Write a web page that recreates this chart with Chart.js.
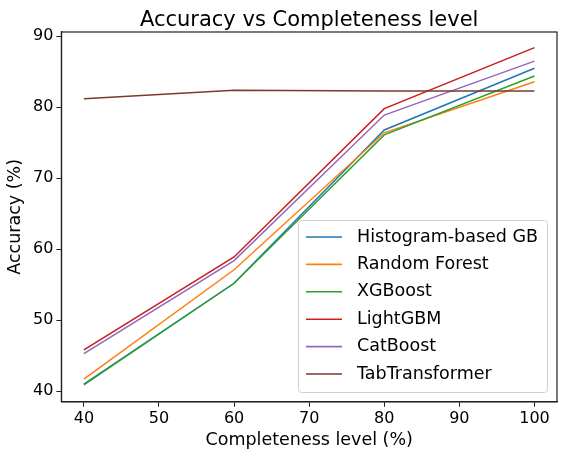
<!DOCTYPE html>
<html>
<head>
<meta charset="utf-8">
<script src="https://cdn.jsdelivr.net/npm/chart.js@4"></script>
<style>
  html, body { margin: 0; padding: 0; background: #fff; }
  #wrap { width: 564px; height: 456px; }
</style>
</head>
<body>
<div id="wrap"><canvas id="lineChart"></canvas></div>
<script>
const completeness = [40, 60, 80, 100];
const xTicks = [40, 50, 60, 70, 80, 90, 100];
const yTicks = [40, 50, 60, 70, 80, 90];

const histGB = [41.0, 55.2, 76.8, 85.5];
const randomForest = [41.7, 57.1, 76.4, 83.6];
const xgboost = [40.9, 55.2, 76.1, 84.4];
const lightGBM = [45.8, 58.9, 79.8, 88.4];
const catBoost = [45.3, 58.4, 78.9, 86.5];
const tabTransformer = [81.2, 82.4, 82.3, 82.3];

const seriesNames = ['Histogram-based GB', 'Random Forest', 'XGBoost', 'LightGBM', 'CatBoost', 'TabTransformer'];
const seriesValues = [histGB, randomForest, xgboost, lightGBM, catBoost, tabTransformer];
const seriesColors = ['#1f77b4', '#ff7f0e', '#2ca02c', '#c81e1e', '#9467bd', '#7a3b2e'];

const FONT = "'DejaVu Sans', sans-serif";
const TITLE = 'Accuracy vs Completeness level';

// frame, title over the plot and legend inside plot like matplotlib
const boxPlugin = {
  id: 'box',
  afterDraw(chart) {
    const ctx = chart.ctx;
    const a = chart.chartArea;
    ctx.save();
    ctx.strokeStyle = '#222';
    ctx.lineWidth = 1.2;
    ctx.strokeRect(a.left, a.top, a.right - a.left, a.bottom - a.top);

    ctx.fillStyle = '#000';
    ctx.font = '21px ' + FONT;
    ctx.textAlign = 'center';
    ctx.textBaseline = 'alphabetic';
    ctx.fillText(TITLE, (a.left + a.right) / 2, 26);

    // legend
    const lx = 298, ly = 220, lw = 249, lh = 172;
    ctx.fillStyle = 'rgba(255,255,255,0.8)';
    ctx.strokeStyle = '#d0d0d0';
    ctx.lineWidth = 1;
    ctx.beginPath();
    ctx.roundRect(lx + 0.5, ly + 0.5, lw, lh, 3);
    ctx.fill();
    ctx.stroke();
    ctx.font = '17.5px ' + FONT;
    ctx.textAlign = 'left';
    ctx.textBaseline = 'middle';
    chart.data.datasets.forEach((ds, i) => {
      const y = 237 + i * 27.4;
      ctx.strokeStyle = ds.borderColor;
      ctx.lineWidth = 1.6;
      ctx.beginPath();
      ctx.moveTo(306, y);
      ctx.lineTo(342, y);
      ctx.stroke();
      ctx.fillStyle = '#000';
      ctx.fillText(ds.label, 357, y);
    });
    ctx.restore();
  }
};

new Chart(document.getElementById('lineChart').getContext('2d'), {
  type: 'line',
  data: {
    datasets: seriesNames.map((name, i) => ({
      label: name,
      data: completeness.map((c, j) => ({ x: c, y: seriesValues[i][j] })),
      borderColor: seriesColors[i],
      backgroundColor: seriesColors[i],
      borderWidth: 1.5,
      pointRadius: 0,
      tension: 0,
      order: seriesNames.length - i
    }))
  },
  options: {
    responsive: true,
    maintainAspectRatio: false,
    animation: false,
    layout: { padding: { left: 5, right: 7, top: 32, bottom: 5 } },
    plugins: {
      legend: { display: false },
      tooltip: { enabled: false },
      title: { display: false }
    },
    scales: {
      x: {
        type: 'linear',
        min: 37,
        max: 103,
        afterBuildTicks: s => { s.ticks = xTicks.map(v => ({ value: v })); },
        grid: { drawOnChartArea: false, drawTicks: true, tickLength: 5, color: '#222' },
        border: { color: '#222', width: 1.2 },
        ticks: { color: '#000', font: { family: FONT, size: 16 }, padding: 2, maxRotation: 0 },
        title: { display: true, text: 'Completeness level (%)', color: '#000', font: { family: FONT, size: 17.5 }, padding: { top: 0, bottom: 0 } }
      },
      y: {
        min: 38.5,
        max: 90.6,
        afterBuildTicks: s => { s.ticks = yTicks.map(v => ({ value: v })); },
        grid: { drawOnChartArea: false, drawTicks: true, tickLength: 5, color: '#222' },
        border: { color: '#222', width: 1.2 },
        ticks: { color: '#000', font: { family: FONT, size: 16 }, padding: 3 },
        title: { display: true, text: 'Accuracy (%)', color: '#000', font: { family: FONT, size: 17.5 }, padding: { top: 0, bottom: 4 } }
      }
    }
  },
  plugins: [boxPlugin]
});
</script>
</body>
</html>
